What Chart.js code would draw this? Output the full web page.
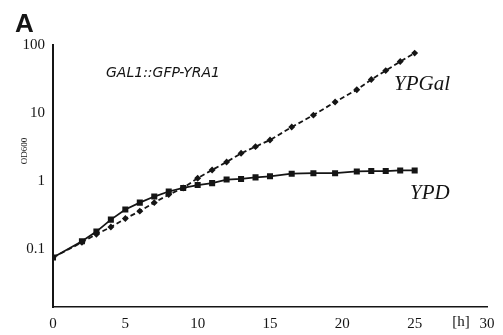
<!DOCTYPE html>
<html>
<head>
<meta charset="utf-8">
<script src="https://cdn.jsdelivr.net/npm/chart.js@4"></script>
<style>
  html, body { margin: 0; padding: 0; background: #fff; }
  #wrap { width: 503px; height: 335px; position: relative; }
</style>
</head>
<body>
<div id="wrap"><canvas id="chart"></canvas></div>
<script>
// growth curves, OD600 vs time [h]
const hours = [0, 2, 3, 4, 5, 6, 7, 8, 9, 10, 11, 12, 13, 14, 15, 16.5, 18, 19.5, 21, 22, 23, 24, 25];
const ypd = [0.075, 0.13, 0.18, 0.27, 0.38, 0.48, 0.59, 0.70, 0.79, 0.87, 0.93, 1.05, 1.07, 1.13, 1.17, 1.28, 1.3, 1.3, 1.38, 1.4, 1.4, 1.43, 1.43];
const ypgal = [0.075, 0.125, 0.165, 0.21, 0.28, 0.36, 0.48, 0.63, 0.79, 1.1, 1.45, 1.9, 2.55, 3.2, 4.0, 6.2, 9.3, 14.5, 22, 31, 42, 57, 76];
const yTicks = [0.1, 1, 10, 100];
const xTicks = [0, 5, 10, 15, 20, 25, 30];

const ink = "#151515";
const serif = "'Liberation Serif', 'DejaVu Serif', serif";

const labels = {
  id: "labels",
  afterDraw(chart) {
    const { ctx, scales: { x } } = chart;
    ctx.save();
    ctx.fillStyle = ink;
    ctx.textBaseline = "middle";

    ctx.font = "bold 26px 'Liberation Sans', Arial, sans-serif";
    ctx.fillText("A", 15, 25);

    ctx.font = "italic 14px 'DejaVu Sans', sans-serif";
    ctx.fillText("GAL1::GFP-YRA1", 106, 73);

    ctx.font = "italic 21px " + serif;
    ctx.fillText("YPGal", 394, 84);
    ctx.fillText("YPD", 410, 193);

    ctx.font = "15px " + serif;
    ctx.textAlign = "center";
    ctx.fillText("[h]", x.getPixelForValue(28.2), x.top + 15);

    ctx.translate(25, 151);
    ctx.rotate(-Math.PI / 2);
    ctx.font = "9px " + serif;
    ctx.fillText("OD600", 0, 0);
    ctx.restore();
  },
};

new Chart(document.getElementById("chart"), {
  type: "line",
  data: {
    datasets: [
      {
        label: "YPGal",
        data: hours.map((h, i) => ({ x: h, y: ypgal[i] })),
        borderColor: ink,
        backgroundColor: ink,
        borderWidth: 1.8,
        borderDash: [5, 3],
        pointStyle: "rectRot",
        pointRadius: 2.2,
        tension: 0,
      },
      {
        label: "YPD",
        data: hours.map((h, i) => ({ x: h, y: ypd[i] })),
        borderColor: ink,
        backgroundColor: ink,
        borderWidth: 1.8,
        pointStyle: "rect",
        pointRadius: 3,
        tension: 0,
      },
    ],
  },
  options: {
    responsive: true,
    maintainAspectRatio: false,
    animation: false,
    layout: { padding: { top: 45, right: 16, left: 0, bottom: 0 } },
    plugins: { legend: { display: false }, tooltip: { enabled: false } },
    scales: {
      x: {
        type: "linear",
        min: 0,
        max: 30,
        afterBuildTicks: (s) => { s.ticks = xTicks.map((v) => ({ value: v })); },
        afterFit: (s) => { s.height = 28; },
        grid: { display: false },
        border: { display: true, color: ink, width: 1.5 },
        ticks: { color: ink, font: { family: serif, size: 15 }, padding: 0 },
      },
      y: {
        type: "logarithmic",
        min: 0.014,
        max: 100,
        afterBuildTicks: (s) => { s.ticks = yTicks.map((v) => ({ value: v })); },
        afterFit: (s) => { s.width = 53; },
        grid: { display: false },
        border: { display: true, color: ink, width: 2 },
        ticks: {
          color: ink,
          font: { family: serif, size: 15 },
          padding: 0,
          callback: (v) => String(v),
        },
      },
    },
  },
  plugins: [labels],
});
</script>
</body>
</html>
